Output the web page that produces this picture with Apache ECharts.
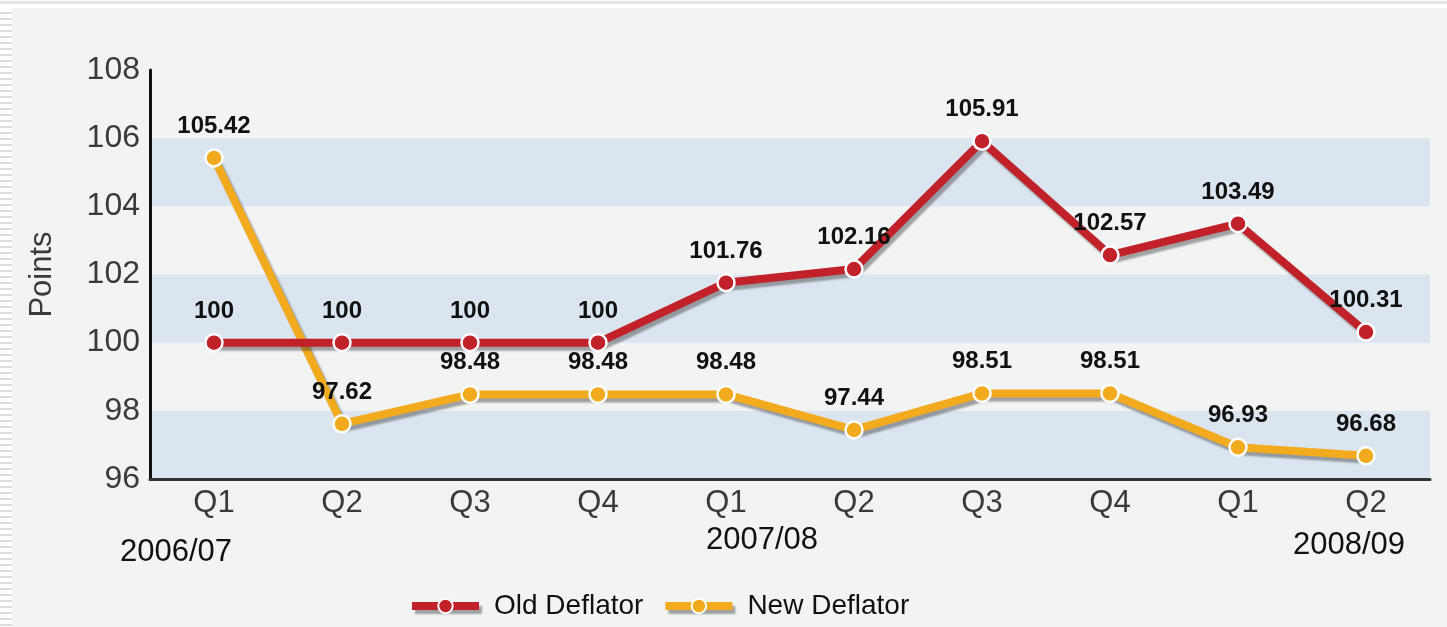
<!DOCTYPE html>
<html>
<head>
<meta charset="utf-8">
<title>Old vs New Deflator</title>
<script src="https://cdn.jsdelivr.net/npm/echarts@6/dist/echarts.min.js"></script>
<style>
  html, body { margin: 0; padding: 0; }
  body {
    width: 1447px; height: 627px; position: relative; overflow: hidden;
    background: #ffffff;
  }
  /* striped strip down the left and thin rule along the top */
  #stripes {
    position: absolute; left: 0; top: 8px; width: 12px; height: 619px;
    background: repeating-linear-gradient(#ffffff 0px, #ffffff 4px, #dcdcdc 4px, #dcdcdc 6px);
  }
  #rule { position: absolute; left: 0; top: 1px; width: 1447px; height: 3px; background: #e3e3e3; }
  #panel { position: absolute; left: 12px; top: 8px; width: 1435px; height: 619px; background: #f2f3f3; }
  #chart { position: absolute; left: 0; top: 0; width: 1447px; height: 627px; }
</style>
</head>
<body>
<div id="rule"></div>
<div id="stripes"></div>
<div id="panel"></div>
<div id="chart"></div>
<script>
const quarters = ['Q1', 'Q2', 'Q3', 'Q4', 'Q1', 'Q2', 'Q3', 'Q4', 'Q1', 'Q2']
const oldDeflator = [100, 100, 100, 100, 101.76, 102.16, 105.91, 102.57, 103.49, 100.31]
const newDeflator = [105.42, 97.62, 98.48, 98.48, 98.48, 97.44, 98.51, 98.51, 96.93, 96.68]
const fiscalYears = ['2006/07', '2007/08', '2008/09']

const RED = '#c1222a'
const GOLD = '#f2aa1e'
const FONT = '"Liberation Sans", Arial, sans-serif'
const SHADOW = {
  shadowColor: 'rgba(60,60,60,0.45)',
  shadowBlur: 2,
  shadowOffsetX: 3,
  shadowOffsetY: 4
}

const lineSeries = (name, data, color) => ({
  name,
  type: 'line',
  data,
  symbol: 'circle',
  symbolSize: 17,
  z: name === 'Old Deflator' ? 3 : 2,
  lineStyle: { width: 8, color, ...SHADOW },
  itemStyle: {
    color,
    borderColor: '#ffffff',
    borderWidth: 2.5
  },
  label: {
    show: true,
    position: 'top',
    distance: 10,
    fontFamily: FONT,
    fontWeight: 'bold',
    fontSize: 24,
    color: '#111'
  },
  emphasis: { disabled: true }
})

const chart = echarts.init(document.getElementById('chart'))
chart.setOption({
  backgroundColor: 'transparent',
  animation: false,
  textStyle: { fontFamily: FONT },
  grid: { left: 150, right: 17, top: 70, bottom: 148 },
  legend: {
    top: 587,
    left: 403,
    itemWidth: 67,
    itemHeight: 18,
    itemGap: 18,
    lineStyle: { width: 8, ...SHADOW },
    itemStyle: { borderColor: '#ffffff', borderWidth: 2 },
    textStyle: { fontSize: 28, color: '#111', fontFamily: FONT, padding: [0, 0, 0, 10] },
    data: ['Old Deflator', 'New Deflator']
  },
  xAxis: {
    type: 'category',
    data: quarters,
    boundaryGap: true,
    axisLine: { lineStyle: { color: '#333', width: 3 } },
    axisTick: { show: false },
    axisLabel: { fontSize: 31, color: '#3a3a3a', margin: 9, fontFamily: FONT }
  },
  yAxis: {
    type: 'value',
    min: 96,
    max: 108,
    interval: 2,
    name: 'Points',
    nameLocation: 'middle',
    nameGap: 92,
    nameTextStyle: { fontSize: 31, color: '#3a3a3a', fontFamily: FONT },
    axisLine: { show: true, lineStyle: { color: '#111', width: 3 } },
    axisTick: { show: false },
    axisLabel: { fontSize: 32, color: '#3a3a3a', margin: 10, fontFamily: FONT },
    splitLine: { show: false },
    splitArea: { show: true, areaStyle: { color: ['#dae5f0', '#f2f3f3'] } }
  },
  graphic: [
    { type: 'text', left: 120, top: 537, style: { text: fiscalYears[0], fontSize: 31, fill: '#111', fontFamily: FONT } },
    { type: 'text', left: 706, top: 525, style: { text: fiscalYears[1], fontSize: 31, fill: '#111', fontFamily: FONT } },
    { type: 'text', left: 1293, top: 530, style: { text: fiscalYears[2], fontSize: 31, fill: '#111', fontFamily: FONT } }
  ],
  series: [
    lineSeries('Old Deflator', oldDeflator, RED),
    lineSeries('New Deflator', newDeflator, GOLD)
  ]
})
</script>
</body>
</html>
